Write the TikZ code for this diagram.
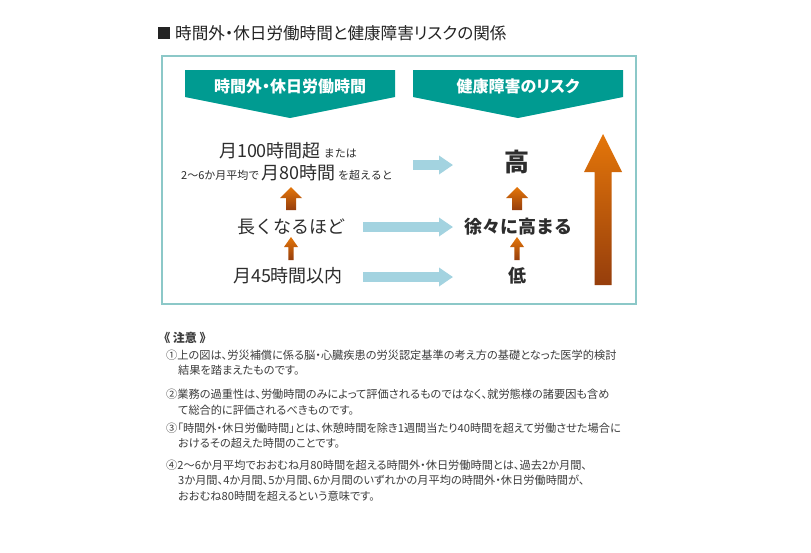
\documentclass[tikz,border=0pt]{standalone}
\usepackage{fontspec}
\setmainfont{Noto Sans CJK JP}
\newfontfamily\notefont[RawFeature=+palt]{Noto Sans CJK JP}
\usetikzlibrary{arrows.meta,calc}
\definecolor{titlec}{RGB}{35,35,35}
\definecolor{bodyc}{RGB}{45,45,45}
\definecolor{notec}{RGB}{60,60,60}
\definecolor{tealc}{RGB}{0,155,145}
\definecolor{framec}{RGB}{140,200,200}
\definecolor{bluec}{RGB}{163,211,224}
\definecolor{orA}{RGB}{228,118,10}
\definecolor{orB}{RGB}{150,62,12}
\newcommand\oarrow[5]{\shade[top color=orA,bottom color=orB] (#1) -- ++(#2,#3) -- ++(-#2+#4,0) -- ++(0,#5-#3) -- ++(-2*#4,0) -- ++(0,-#5+#3) -- ++(-#2+#4,0) -- cycle;}
\begin{document}
\begin{tikzpicture}[x=1pt,y=-1pt,
  big/.style={font=\fontsize{18}{20}\selectfont, text=bodyc, inner sep=0pt},
  bigb/.style={font=\bfseries\fontsize{18}{20}\selectfont, text=bodyc, inner sep=0pt},
  hdr/.style={font=\notefont\bfseries\fontsize{16}{18}\selectfont, text=white, inner sep=0pt},
  noteline/.style={anchor=west, inner sep=0pt, text=notec, font=\notefont\fontsize{11.2}{13}\selectfont},
  bluearrow/.style={draw=bluec, line width=10pt, -{Triangle[width=18pt,length=14pt]}}]
\useasboundingbox (0,0) rectangle (811,552);
\fill[white] (0,0) rectangle (811,552);
% title
\fill[titlec] (158,27) rectangle (170,39);
\node[anchor=west, inner sep=0pt, text=titlec, font=\notefont\fontsize{16.6}{18}\selectfont] (title) at (175,33) {時間外・休日労働時間と健康障害リスクの関係};
% frame
\draw[framec, line width=1.6pt] (162,56) rectangle (636,304);
% headers
\fill[tealc] (185,70) -- (395,70) -- (395,97) -- (290,118) -- (185,97) -- cycle;
\fill[tealc] (413,70) -- (623,70) -- (623,97) -- (518,118) -- (413,97) -- cycle;
\node[hdr] (h1) at (290,86) {時間外・休日労働時間};
\node[hdr] (h2) at (518,86) {健康障害のリスク};
% left column
\node[anchor=base, inner sep=0pt, text=bodyc] (n100) at (288,157) {\fontsize{18}{20}\selectfont 月100時間超\,\fontsize{11}{13}\selectfont または};
\node[anchor=base, inner sep=0pt, text=bodyc] (n80) at (287,179) {\fontsize{11}{13}\selectfont 2〜6か月平均で\,\fontsize{18}{20}\selectfont 月80時間\,\fontsize{11}{13}\selectfont を超えると};
\node[big] (nlong) at (291,227) {長くなるほど};
\node[big] (n45) at (288,276) {月45時間以内};
% right column
\node[font=\bfseries\fontsize{25}{28}\selectfont, text=bodyc, inner sep=0pt] (nhigh) at (517,162) {高};
\node[bigb] (ngrad) at (518,227) {徐々に高まる};
\node[bigb] (nlow) at (517,276) {低};
% blue arrows
\coordinate (b1s) at (413,165); \coordinate (b1e) at (453,165);
\coordinate (b2s) at (363,227); \coordinate (b2e) at (453,227);
\coordinate (b3s) at (363,277); \coordinate (b3e) at (453,277);
\draw[bluearrow] (b1s) -- (b1e);
\draw[bluearrow] (b2s) -- (b2e);
\draw[bluearrow] (b3s) -- (b3e);
% orange arrows
\coordinate (o1) at (291,187);
\coordinate (o2) at (291,237);
\coordinate (o3) at (517,187);
\coordinate (o4) at (517,237);
\oarrow{o1}{11}{11}{5}{23}
\oarrow{o2}{7}{10}{2.7}{23}
\oarrow{o3}{11}{11}{5}{23}
\oarrow{o4}{7}{10}{2.7}{23}
\coordinate (obig) at (603,134);
\oarrow{obig}{19}{38}{8.5}{151}
% notes
\node[noteline, font=\notefont\bfseries\fontsize{12}{14}\selectfont] (nt) at (164,338) {《 注意 》};
\node[noteline] (l1) at (166,355) {①上の図は、労災補償に係る脳・心臓疾患の労災認定基準の考え方の基礎となった医学的検討};
\node[noteline] (l1b) at (178,370) {結果を踏まえたものです。};
\node[noteline] (l2) at (166,394) {②業務の過重性は、労働時間のみによって評価されるものではなく、就労態様の諸要因も含め};
\node[noteline] (l2b) at (178,410) {て総合的に評価されるべきものです。};
\node[noteline] (l3) at (166,428) {③「時間外・休日労働時間」とは、休憩時間を除き1週間当たり40時間を超えて労働させた場合に};
\node[noteline] (l3b) at (178,443) {おけるその超えた時間のことです。};
\node[noteline] (l4) at (166,465) {④2〜6か月平均でおおむね月80時間を超える時間外・休日労働時間とは、過去2か月間、};
\node[noteline] (l4b) at (178,480) {3か月間、4か月間、5か月間、6か月間のいずれかの月平均の時間外・休日労働時間が、};
\node[noteline] (l4c) at (178,496) {おおむね80時間を超えるという意味です。};
\end{tikzpicture}
\end{document}
